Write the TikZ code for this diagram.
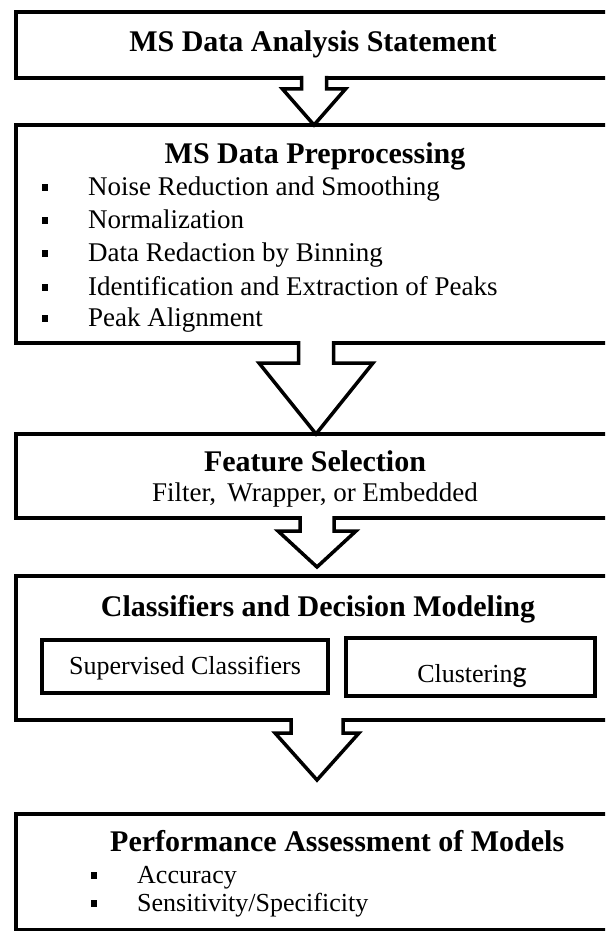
\documentclass[tikz,border=0pt]{standalone}
\usepackage{fontspec}
\setmainfont{Liberation Serif}
\newfontfamily\calfont{Carlito}
\usetikzlibrary{calc}
\tikzset{
  box/.style={draw, line width=4pt, minimum width=600pt, inner sep=0pt, outer sep=0pt, line join=miter},
  subbox/.style={draw, line width=4pt, inner sep=0pt, outer sep=0pt, line join=miter},
  arrowline/.style={line width=3.5pt, line join=miter},
  title/.style={font=\fontsize{30}{36}\selectfont\bfseries, inner sep=0pt, anchor=mid},
  subtitle/.style={font=\fontsize{27}{32}\selectfont, inner sep=0pt, anchor=mid},
  item/.style={font=\fontsize{27}{32}\selectfont, inner sep=0pt, anchor=mid west},
  smallitem/.style={font=\fontsize{26}{31}\selectfont, inner sep=0pt, anchor=mid west},
  bul/.style={fill, minimum width=6.5pt, minimum height=7pt, inner sep=0pt, outer sep=0pt},
}
% #1 from node, #2 tip coordinate, #3 shaft half width, #4 head half width, #5 head offset, #6 x shift
\newcommand\blockarrow[6]{%
  \fill[white] ($(#1.south)+(#6-#3,-3)$) -- ($(#1.south)+(#6-#3,#5)$) -- ($(#1.south)+(#6-#4,#5)$)
     -- ($(#2)+(#6,0)$) -- ($(#1.south)+(#6+#4,#5)$) -- ($(#1.south)+(#6+#3,#5)$) -- ($(#1.south)+(#6+#3,-3)$) -- cycle;
  \draw[arrowline] ($(#1.south)+(#6-#3,-2)$) -- ($(#1.south)+(#6-#3,#5)$) -- ($(#1.south)+(#6-#4,#5)$)
     -- ($(#2)+(#6,0)$) -- ($(#1.south)+(#6+#4,#5)$) -- ($(#1.south)+(#6+#3,#5)$) -- ($(#1.south)+(#6+#3,-2)$);
}
\begin{document}
\begin{tikzpicture}[x=1pt, y=-1pt]
\useasboundingbox (0,0) rectangle (605,931);
\clip (0,0) rectangle (605,931);
\fill[white] (0,0) rectangle (605,931);

% boxes
\node[box, minimum height=66pt]  (b1) at (316,45)  {};
\node[box, minimum height=218pt] (b2) at (316,234) {};
\node[box, minimum height=84pt]  (b3) at (316,476) {};
\node[box, minimum height=144pt] (b4) at (316,648) {};
\node[box, minimum height=116pt] (b5) at (316,872) {};

% box 1
\node[title] (t1) at (313,49) {MS Data Analysis Statement};

% box 2
\node[title] (t2) at (315,161) {MS Data Preprocessing};
\node[bul] (q1) at (45,187) {};
\node[bul] (q2) at (45,220) {};
\node[bul] (q3) at (45,253) {};
\node[bul] (q4) at (45,287) {};
\node[bul] (q5) at (45,318) {};
\node[item] (i1) at (88,193) {Noise Reduction and Smoothing};
\node[item] (i2) at (88,226) {Normalization};
\node[item] (i3) at (88,259) {Data Redaction by Binning};
\node[item] (i4) at (88,293) {Identification and Extraction of Peaks};
\node[item] (i5) at (88,324) {Peak Alignment};

% box 3
\node[title] (t3) at (315,469) {Feature Selection};
\node[subtitle] (t3b) at (315,499) {Filter,\, Wrapper, or Embedded};

% box 4
\node[title] (t4) at (318,614) {Classifiers and Decision Modeling};
\node[subbox, minimum width=286pt, minimum height=53pt] (s1) at (185,666.5) {};
\node[subbox, minimum width=249pt, minimum height=58pt] (s2) at (470.5,667) {};
\node[smallitem, anchor=mid] (s1t) at (185,672) {Supervised Classifiers};
\node[smallitem, anchor=mid] (s2t) at (472,680) {Clusterin{\calfont\fontsize{30}{36}\selectfont g}};

% box 5
\node[title, anchor=mid west] (t5) at (110,849) {Performance Assessment of Models};
\node[bul] (r1) at (94,875) {};
\node[bul] (r2) at (94,903) {};
\node[smallitem] (j1) at (137,881) {Accuracy};
\node[smallitem] (j2) at (137,909) {Sensitivity/Specificity};

% block arrows
\coordinate (tip3) at (316,567);
\coordinate (tip4) at (316,780);
\blockarrow{b1}{b2.north}{12.5}{31.5}{11}{-2}
\blockarrow{b2}{b3.north}{17.5}{57}{20}{0}
\blockarrow{b3}{tip3}{17}{39}{13}{1}
\blockarrow{b4}{tip4}{26}{42}{13}{1}
\end{tikzpicture}
\end{document}
